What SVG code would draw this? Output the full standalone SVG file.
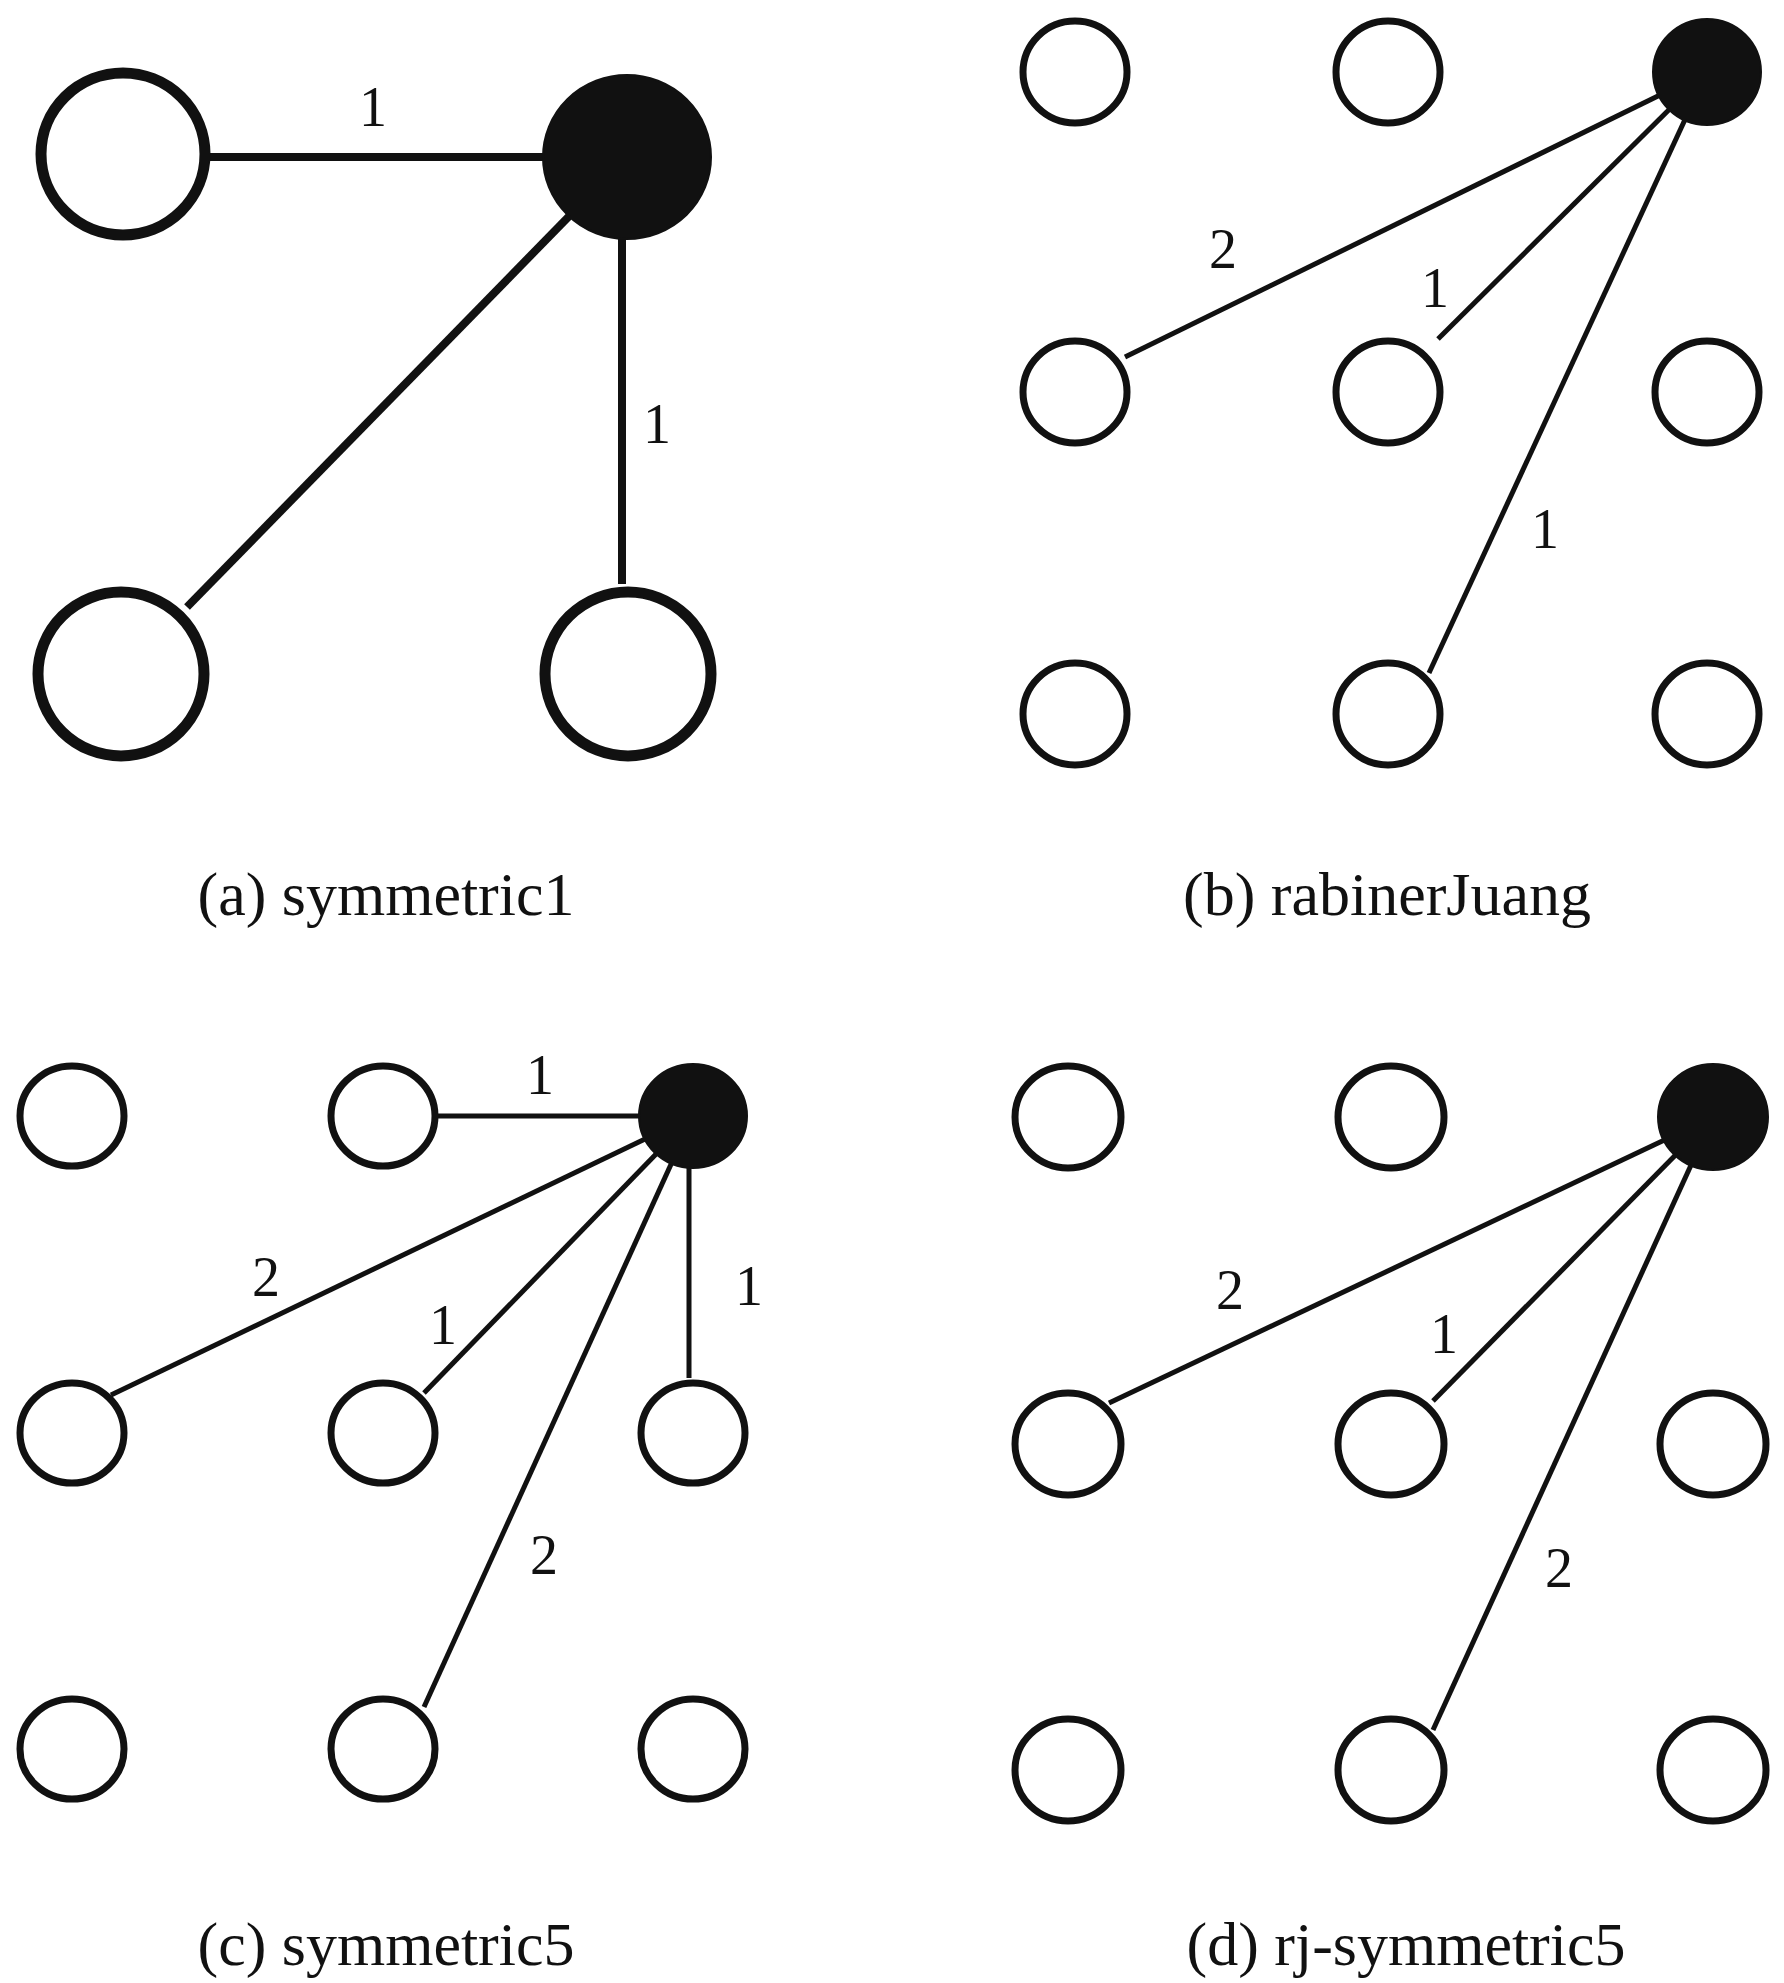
<svg xmlns="http://www.w3.org/2000/svg" width="1784" height="1983" viewBox="0 0 1784 1983">
<style>
.big{fill:#fff;stroke:#111;stroke-width:11}
.bigf{fill:#111;stroke:#111;stroke-width:2}
.n{fill:#fff;stroke:#111;stroke-width:7}
.nf{fill:#111;stroke:#111;stroke-width:2}
.e1{stroke:#111;stroke-width:8;fill:none}
.e{stroke:#111;stroke-width:5;fill:none}
.lbl{font-family:"Liberation Serif","Times New Roman",serif;font-size:56px;fill:#111;text-anchor:middle}
.cap{font-family:"Liberation Serif","Times New Roman",serif;font-size:62px;fill:#111;text-anchor:middle}
</style>
<rect width="1784" height="1983" fill="#fff"/>
<g id="connectors">
<line class="e1" x1="209" y1="157" x2="627" y2="157"/>
<line class="e1" x1="187" y1="607" x2="627" y2="157"/>
<line class="e1" x1="622" y1="157" x2="622" y2="584"/>
<line class="e" x1="1125" y1="357" x2="1707" y2="72"/>
<line class="e" x1="1438" y1="339" x2="1707" y2="72"/>
<line class="e" x1="1429" y1="673" x2="1707" y2="72"/>
<line class="e" x1="436" y1="1116" x2="693" y2="1116"/>
<line class="e" x1="111" y1="1395" x2="693" y2="1116"/>
<line class="e" x1="424" y1="1393" x2="693" y2="1116"/>
<line class="e" x1="689" y1="1116" x2="689" y2="1378"/>
<line class="e" x1="424" y1="1707" x2="693" y2="1116"/>
<line class="e" x1="1109" y1="1403" x2="1713" y2="1117"/>
<line class="e" x1="1433" y1="1401" x2="1713" y2="1117"/>
<line class="e" x1="1433" y1="1730" x2="1713" y2="1117"/>
</g>
<g id="panel-a">
<g id="a-n1"><ellipse class="big" cx="123" cy="154" rx="82" ry="81"/></g>
<g id="a-n2"><ellipse class="bigf" cx="627" cy="157" rx="84" ry="82"/></g>
<g id="a-n3"><ellipse class="big" cx="121" cy="674" rx="83" ry="82"/></g>
<g id="a-n4"><ellipse class="big" cx="628" cy="674" rx="83" ry="82"/></g>
<text class="lbl" x="373" y="126">1</text>
<text class="lbl" x="657" y="443">1</text>
<text class="cap" x="386" y="915">(a) symmetric1</text>
</g>
<g id="panel-b">
<g id="b-n11"><ellipse class="n" cx="1075" cy="72" rx="52" ry="51"/></g>
<g id="b-n12"><ellipse class="n" cx="1388" cy="72" rx="52" ry="51"/></g>
<g id="b-n13"><ellipse class="nf" cx="1707" cy="72" rx="54" ry="53"/></g>
<g id="b-n21"><ellipse class="n" cx="1075" cy="392" rx="52" ry="51"/></g>
<g id="b-n22"><ellipse class="n" cx="1388" cy="392" rx="52" ry="51"/></g>
<g id="b-n23"><ellipse class="n" cx="1707" cy="392" rx="52" ry="51"/></g>
<g id="b-n31"><ellipse class="n" cx="1075" cy="714" rx="52" ry="51"/></g>
<g id="b-n32"><ellipse class="n" cx="1388" cy="714" rx="52" ry="51"/></g>
<g id="b-n33"><ellipse class="n" cx="1707" cy="714" rx="52" ry="51"/></g>
<text class="lbl" x="1223" y="268">2</text>
<text class="lbl" x="1435" y="307">1</text>
<text class="lbl" x="1545" y="548">1</text>
<text class="cap" x="1387" y="915">(b) rabinerJuang</text>
</g>
<g id="panel-c">
<g id="c-n11"><ellipse class="n" cx="72" cy="1116" rx="52" ry="50"/></g>
<g id="c-n12"><ellipse class="n" cx="383" cy="1116" rx="52" ry="50"/></g>
<g id="c-n13"><ellipse class="nf" cx="693" cy="1116" rx="54" ry="52"/></g>
<g id="c-n21"><ellipse class="n" cx="72" cy="1433" rx="52" ry="50"/></g>
<g id="c-n22"><ellipse class="n" cx="383" cy="1433" rx="52" ry="50"/></g>
<g id="c-n23"><ellipse class="n" cx="693" cy="1433" rx="52" ry="50"/></g>
<g id="c-n31"><ellipse class="n" cx="72" cy="1749" rx="52" ry="50"/></g>
<g id="c-n32"><ellipse class="n" cx="383" cy="1749" rx="52" ry="50"/></g>
<g id="c-n33"><ellipse class="n" cx="693" cy="1749" rx="52" ry="50"/></g>
<text class="lbl" x="540" y="1094">1</text>
<text class="lbl" x="266" y="1296">2</text>
<text class="lbl" x="443" y="1344">1</text>
<text class="lbl" x="749" y="1305">1</text>
<text class="lbl" x="544" y="1574">2</text>
<text class="cap" x="386" y="1965">(c) symmetric5</text>
</g>
<g id="panel-d">
<g id="d-n11"><ellipse class="n" cx="1068" cy="1117" rx="53" ry="51"/></g>
<g id="d-n12"><ellipse class="n" cx="1391" cy="1117" rx="53" ry="51"/></g>
<g id="d-n13"><ellipse class="nf" cx="1713" cy="1117" rx="55" ry="53"/></g>
<g id="d-n21"><ellipse class="n" cx="1068" cy="1444" rx="53" ry="51"/></g>
<g id="d-n22"><ellipse class="n" cx="1391" cy="1444" rx="53" ry="51"/></g>
<g id="d-n23"><ellipse class="n" cx="1713" cy="1444" rx="53" ry="51"/></g>
<g id="d-n31"><ellipse class="n" cx="1068" cy="1770" rx="53" ry="51"/></g>
<g id="d-n32"><ellipse class="n" cx="1391" cy="1770" rx="53" ry="51"/></g>
<g id="d-n33"><ellipse class="n" cx="1713" cy="1770" rx="53" ry="51"/></g>
<text class="lbl" x="1230" y="1309">2</text>
<text class="lbl" x="1444" y="1353">1</text>
<text class="lbl" x="1559" y="1587">2</text>
<text class="cap" x="1406" y="1965">(d) rj-symmetric5</text>
</g>
</svg>
